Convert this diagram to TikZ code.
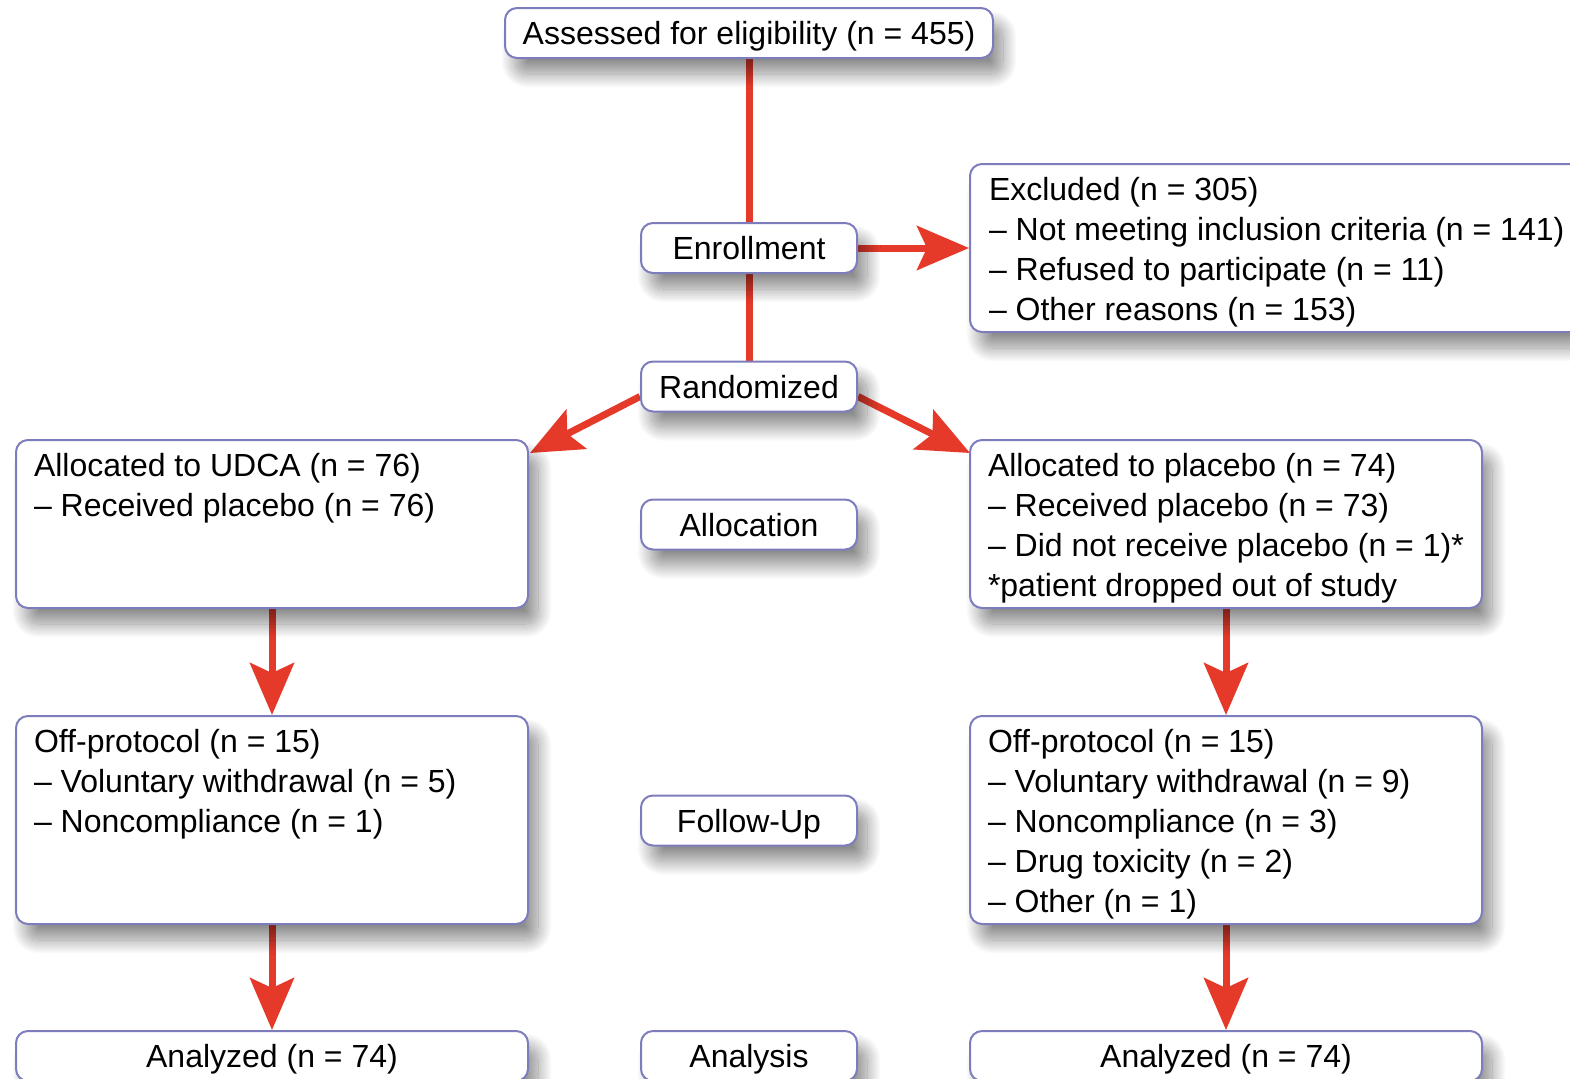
\documentclass[tikz,border=0pt]{standalone}
\usepackage{fontspec}
\setmainfont{Liberation Sans}
\usetikzlibrary{arrows.meta,shadows.blur,backgrounds}
\definecolor{boxline}{RGB}{125,125,190}
\definecolor{flowred}{RGB}{229,58,42}

\newcommand{\boxtext}[3]{\parbox[c][#1][t]{#2}{\raggedright\rule{0pt}{18.25pt}#3}}

\begin{document}
\begin{tikzpicture}[x=0.5pt, y=-0.5pt,
    every node/.style={font=\fontsize{16pt}{20pt}\selectfont},
    panel/.style={draw=boxline, line width=1pt, rounded corners=6pt, fill=white,
      blur shadow={shadow xshift=5pt, shadow yshift=-8pt, shadow blur radius=7pt,
        shadow blur steps=25, shadow opacity=45},
      inner sep=0pt},
    stage/.style={panel, minimum width=108pt, minimum height=25pt, text height=11.5pt, text depth=0pt},
    group/.style={panel, minimum width=256pt},
    link/.style={draw=flowred, line width=3.5pt},
    flow/.style={link, -{Stealth[length=26pt, width=22pt, inset=5pt]}}]

    \useasboundingbox (0,0) rectangle (1570,1078);
    \clip (0,0) rectangle (1570,1078);

    % Centre column
    \node[stage, minimum width=244pt] (assess) at (749,33) {Assessed for eligibility (n = 455)};
    \node[stage] (enrol) at (749,248) {Enrollment};
    \node[stage] (rand) at (749,386.5) {Randomized};
    \node[stage] (alloc) at (749,524.5) {Allocation};
    \node[stage] (follow) at (749,820.5) {Follow-Up};
    \node[stage] (analysis) at (749,1056) {Analysis};

    % Excluded
    \node[group, minimum width=315pt] (excl) at (1285,248) {\boxtext{84pt}{296pt}{Excluded (n = 305)\\
      – Not meeting inclusion criteria (n = 141)\\
      – Refused to participate (n = 11)\\
      – Other reasons (n = 153)}};

    % UDCA arm
    \node[group] (ua) at (272,524) {\boxtext{84pt}{238pt}{Allocated to UDCA (n = 76)\\
      – Received placebo (n = 76)}};
    \node[group] (uf) at (272,820) {\boxtext{104pt}{238pt}{Off-protocol (n = 15)\\
      – Voluntary withdrawal (n = 5)\\
      – Noncompliance (n = 1)}};
    \node[stage, minimum width=256pt] (uan) at (272,1056) {Analyzed (n = 74)};

    % Placebo arm
    \node[group] (pa) at (1226,524) {\boxtext{84pt}{238pt}{Allocated to placebo (n = 74)\\
      – Received placebo (n = 73)\\
      – Did not receive placebo (n = 1)*\\
      {*}patient dropped out of study}};
    \node[group] (pf) at (1226,820) {\boxtext{104pt}{238pt}{Off-protocol (n = 15)\\
      – Voluntary withdrawal (n = 9)\\
      – Noncompliance (n = 3)\\
      – Drug toxicity (n = 2)\\
      – Other (n = 1)}};
    \node[stage, minimum width=256pt] (pan) at (1226,1056) {Analyzed (n = 74)};

    \coordinate (ltip) at (530,453);
    \coordinate (rtip) at (970,453);

    % Connectors
    \begin{scope}[on background layer]
    \draw[link] (assess) -- (enrol);
    \draw[link] (enrol) -- (rand);
    \draw[flow] (enrol) -- (excl);
    \draw[flow] ([yshift=-5pt]rand.west) -- (ltip);
    \draw[flow] ([yshift=-5pt]rand.east) -- (rtip);
    \draw[flow] (ua) -- (uf);
    \draw[flow] (uf) -- (uan);
    \draw[flow] (pa) -- (pf);
    \draw[flow] (pf) -- (pan);
    \end{scope}

\end{tikzpicture}
\end{document}
